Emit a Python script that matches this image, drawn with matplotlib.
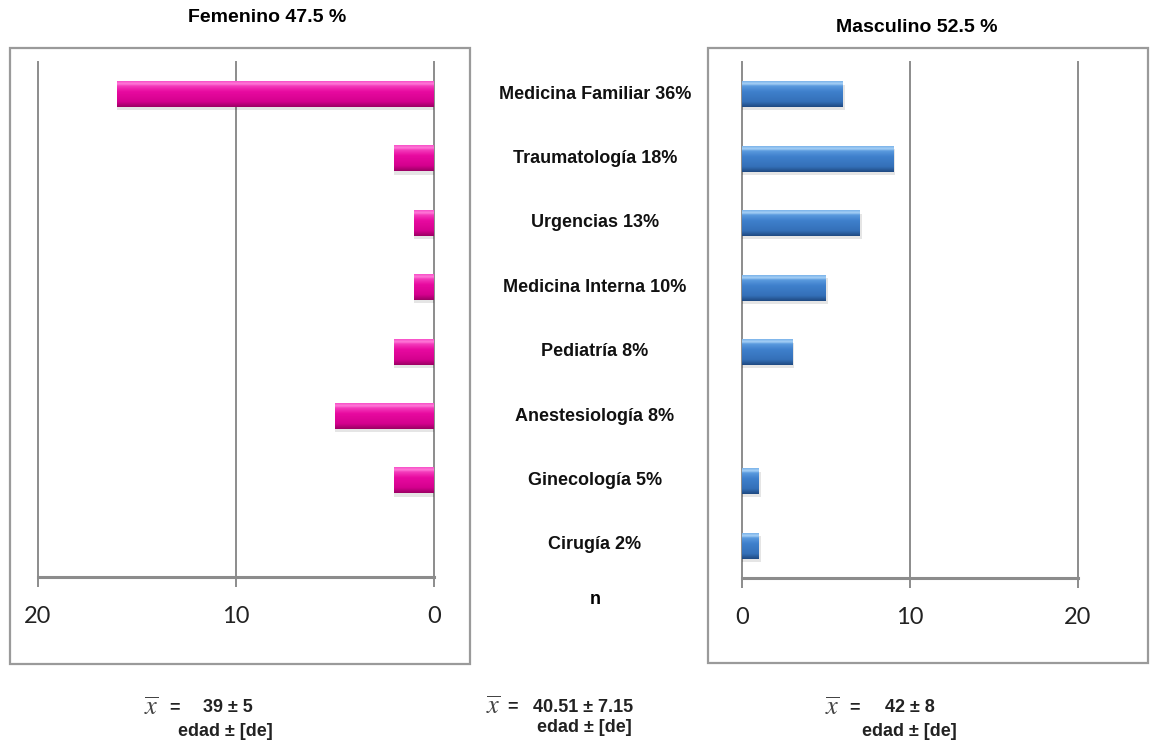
import numpy as np
import matplotlib
matplotlib.use("Agg")
from matplotlib import pyplot as plt
from matplotlib.patches import Rectangle
from matplotlib.colors import LinearSegmentedColormap

# especialidades y numero de medicos por sexo
especialidades = ["Medicina Familiar 36%", "Traumatología 18%", "Urgencias 13%",
                  "Medicina Interna 10%", "Pediatría 8%", "Anestesiología 8%",
                  "Ginecología 5%", "Cirugía 2%"]
femenino = [16, 2, 1, 1, 2, 5, 2, 0]
masculino = [6, 9, 7, 5, 3, 0, 1, 1]
ticks = [0, 10, 20]
titulo_fem = "Femenino 47.5 %"
titulo_masc = "Masculino 52.5 %"
edad_fem = ("39", "5")
edad_total = ("40.51", "7.15")
edad_masc = ("42", "8")

plt.rcParams["mathtext.fontset"] = "stix"

W, H = 1158, 745
fig = plt.figure(figsize=(W / 100, H / 100), dpi=100)

def box(x0, y0, x1, y1):
    # rectangulo en pixeles (origen arriba a la izquierda)
    return [x0 / W, 1 - y1 / H, (x1 - x0) / W, (y1 - y0) / H]

gris = "#8c8c8c"
# degradado vertical: 0 = borde inferior oscuro, 1 = brillo superior
rosa = LinearSegmentedColormap.from_list(
    "rosa", [(0, "#9c0064"), (0.2, "#d4008e"), (0.6, "#e80aa0"), (0.82, "#f43cbc"), (0.9, "#ff7ad8"), (1, "#f850c8")])
azul = LinearSegmentedColormap.from_list(
    "azul", [(0, "#1f4a82"), (0.2, "#3470b8"), (0.6, "#3f80cc"), (0.82, "#5a9ade"), (0.9, "#a6d0f6"), (1, "#7cb4ea")])

# marcos de cada panel
for b in [box(10, 48, 470, 664), box(708, 48, 1148, 663)]:
    fig.patches.append(Rectangle((b[0], b[1]), b[2], b[3], transform=fig.transFigure,
                                 fill=False, edgecolor="#9a9a9a", lw=1.6, zorder=0))

def panel(ax, valores, cmap, invertir):
    n = len(valores)
    lims = (20, 0) if invertir else (0, 20)
    for t in ticks:
        ax.axvline(t, color=gris, lw=1.4, clip_on=False, zorder=1)
    for s in ["top", "left", "right"]:
        ax.spines[s].set_visible(False)
    ax.spines["bottom"].set_color(gris)
    ax.spines["bottom"].set_linewidth(2.2)
    ax.set_xticks(ticks)
    ax.tick_params(axis="x", length=7, width=1.4, color=gris, labelsize=17, pad=14,
                   labelcolor="#222222")
    ax.tick_params(axis="y", left=False, labelleft=False)
    for lab in ax.get_xticklabels():
        lab.set_family("Lato")
    grad = np.linspace(1, 0, 64).reshape(-1, 1)
    h = 0.4
    for yi, v in enumerate(valores):
        if v == 0:
            continue
        # sombra
        ax.add_patch(Rectangle((0, yi - h / 2 + 0.05), v + (0.0 if invertir else 0.12), h,
                               facecolor="#000000", alpha=0.10, lw=0, zorder=2))
        ax.imshow(grad, cmap=cmap, aspect="auto", origin="upper", vmin=0, vmax=1,
                  extent=[0, v, yi + h / 2, yi - h / 2], zorder=3, interpolation="bilinear")
    ax.set_xlim(*lims)
    ax.set_ylim(n - 0.5, -0.5)

ax_f = fig.add_axes(box(38, 62, 434, 577))
panel(ax_f, femenino, rosa, True)
ax_m = fig.add_axes(box(742, 62, 1078, 578))
panel(ax_m, masculino, azul, False)

# etiquetas centrales
ax_c = fig.add_axes(box(480, 62, 710, 577))
ax_c.set_xlim(0, 1)
ax_c.set_ylim(len(especialidades) - 0.5, -0.5)
ax_c.axis("off")
for i, esp in enumerate(especialidades):
    ax_c.text(0.5, i, esp, ha="center", va="center", fontsize=13, fontweight="bold",
              family="Liberation Sans", color="#111111")

fig.text(595 / W, 1 - 600 / H, "n", ha="center", va="center", fontsize=13,
         fontweight="bold", family="Liberation Sans")
fig.text(267 / W, 1 - 18 / H, titulo_fem, ha="center", va="center", fontsize=14,
         fontweight="bold", family="Liberation Sans")
fig.text(917 / W, 1 - 28 / H, titulo_masc, ha="center", va="center", fontsize=14,
         fontweight="bold", family="Liberation Sans")

# media de edad +/- desviacion estandar
def edad(xb, xe, xv, xd, y1, y2, media, de):
    kw = dict(va="center", fontsize=13, fontweight="bold", family="Liberation Sans",
              color="#222222")
    fig.text(xb / W, 1 - y1 / H, r"$\overline{x}$", ha="center", va="center",
             fontsize=19, color="#444444")
    fig.text(xe / W, 1 - y1 / H, "=", ha="center", **kw)
    fig.text(xv / W, 1 - y1 / H, media + " ± " + de, ha="left", **kw)
    fig.text(xd / W, 1 - y2 / H, "edad ± [de]", ha="left", **kw)

edad(151, 174, 203, 178, 708, 731, *edad_fem)
edad(493, 512, 533, 537, 707, 728, *edad_total)
edad(832, 855, 885, 862, 708, 731, *edad_masc)

fig.savefig("out.png", dpi=100)
